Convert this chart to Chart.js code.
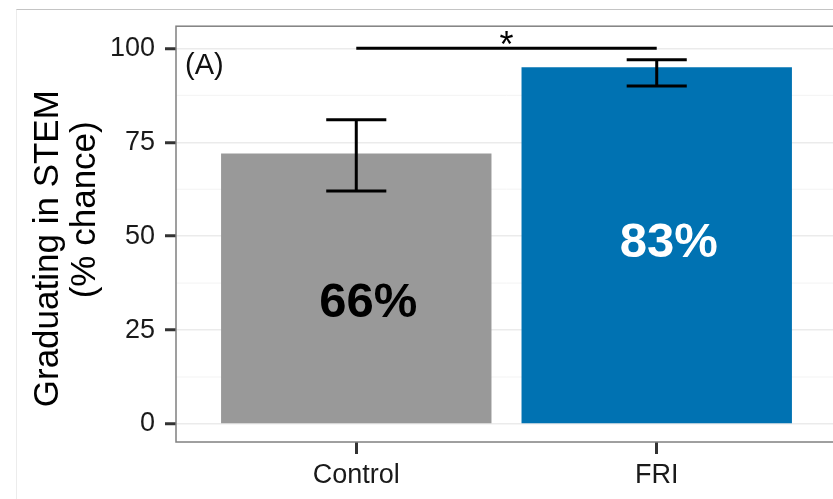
<!DOCTYPE html>
<html>
<head>
<meta charset="utf-8">
<script src="https://cdn.jsdelivr.net/npm/chart.js@4.4.1/dist/chart.umd.min.js"></script>
<style>
  html, body { margin: 0; padding: 0; background: #fff; overflow: hidden; }
  #wrap { position: relative; width: 833px; height: 499px; overflow: hidden; }
  #frame { position: absolute; left: 16px; top: 9px; right: 0; bottom: 0;
           border-top: 1px solid #c4c4c4; border-left: 1px solid #ececec; }
  #myChart { position: absolute; left: 0; top: 0; }
</style>
</head>
<body>
<div id="wrap">
  <div id="frame"></div>
  <canvas id="myChart" width="845" height="499"></canvas>
</div>
<script>
// dados do grafico
const categories = ['Control', 'FRI'];
const means = [72, 95];
const errLow = [62, 90];
const errHigh = [81, 97];
const pctLabels = ['66%', '83%'];
const pctX = [1.04, 2.04];
const pctY = [32, 48];
const barColors = ['#999999', '#0072B2'];
const pctColors = ['#000000', '#ffffff'];

const yTicks = [0, 25, 50, 75, 100];
const yMinor = [12.5, 37.5, 62.5, 87.5];

// linha de significancia entre os dois grupos
const sigFrom = 1;
const sigTo = 2;
const sigY = 100;
const sigText = '*';
const panelTag = '(A)';

const FONT = "'Liberation Sans', Arial, sans-serif";

var myChart;

const extras = {
    id: 'extras',
    beforeDatasetsDraw(chart) {
        const ctx = chart.ctx;
        const y = chart.scales.y;
        const area = chart.chartArea;
        ctx.save();
        ctx.strokeStyle = '#f3f3f3';
        ctx.lineWidth = 1;
        yMinor.forEach(v => {
            const py = y.getPixelForValue(v);
            ctx.beginPath();
            ctx.moveTo(area.left, py);
            ctx.lineTo(area.right, py);
            ctx.stroke();
        });
        ctx.restore();
    },
    afterDatasetsDraw(chart) {
        const ctx = chart.ctx;
        const x = chart.scales.x;
        const y = chart.scales.y;
        const area = chart.chartArea;
        ctx.save();

        // barras de erro
        ctx.strokeStyle = '#000';
        ctx.lineWidth = 3;
        categories.forEach((c, i) => {
            const cx = x.getPixelForValue(i + 1);
            const half = (x.getPixelForValue(i + 1.1) - cx);
            const top = y.getPixelForValue(errHigh[i]);
            const bot = y.getPixelForValue(errLow[i]);
            ctx.beginPath();
            ctx.moveTo(cx - half, top); ctx.lineTo(cx + half, top);
            ctx.moveTo(cx, top); ctx.lineTo(cx, bot);
            ctx.moveTo(cx - half, bot); ctx.lineTo(cx + half, bot);
            ctx.stroke();
        });

        // textos dentro das barras
        ctx.font = 'bold 49px ' + FONT;
        ctx.textAlign = 'center';
        ctx.textBaseline = 'middle';
        pctLabels.forEach((t, i) => {
            ctx.fillStyle = pctColors[i];
            ctx.fillText(t, x.getPixelForValue(pctX[i]), y.getPixelForValue(pctY[i]));
        });

        // significancia
        const sy = y.getPixelForValue(sigY);
        const x1 = x.getPixelForValue(sigFrom);
        const x2 = x.getPixelForValue(sigTo);
        ctx.beginPath();
        ctx.moveTo(x1, sy);
        ctx.lineTo(x2, sy);
        ctx.stroke();
        ctx.fillStyle = '#000';
        ctx.font = '36px ' + FONT;
        ctx.textBaseline = 'alphabetic';
        ctx.fillText(sigText, (x1 + x2) / 2, sy + 9);

        // rotulo do painel
        ctx.font = '29px ' + FONT;
        ctx.textAlign = 'left';
        ctx.textBaseline = 'middle';
        ctx.fillStyle = '#111';
        ctx.fillText(panelTag, area.left + 9, area.top + 40);

        // borda do painel
        ctx.strokeStyle = '#808080';
        ctx.lineWidth = 1.5;
        ctx.strokeRect(area.left, area.top, area.right - area.left, area.bottom - area.top);
        ctx.restore();
    }
};

function createChart() {
    myChart = new Chart(document.getElementById('myChart'), {
        type: 'bar',
        data: {
            datasets: [{
                data: categories.map((c, i) => ({ x: i + 1, y: means[i] })),
                backgroundColor: barColors,
                borderWidth: 0,
                barPercentage: 0.9,
                categoryPercentage: 1.0
            }]
        },
        options: {
            responsive: false,
            animation: false,
            layout: { padding: { top: 26, right: 8, left: 0, bottom: 0 } },
            plugins: {
                legend: { display: false },
                tooltip: { enabled: false }
            },
            scales: {
                x: {
                    type: 'linear',
                    min: 0.4,
                    max: 2.6,
                    offset: false,
                    afterBuildTicks: s => { s.ticks = categories.map((c, i) => ({ value: i + 1 })); },
                    afterFit: s => { s.height = 57; },
                    grid: {
                        display: true, drawOnChartArea: false, drawTicks: true,
                        offset: false, tickLength: 12, tickWidth: 3, tickColor: '#333'
                    },
                    border: { display: false },
                    ticks: {
                        autoSkip: false,
                        maxRotation: 0,
                        padding: 5,
                        color: '#1a1a1a',
                        font: { family: FONT, size: 27 },
                        callback: v => categories[v - 1]
                    }
                },
                y: {
                    min: -4.8,
                    max: 105.9,
                    afterBuildTicks: s => { s.ticks = yTicks.map(v => ({ value: v })); },
                    afterFit: s => { s.width = 176; },
                    grid: {
                        color: '#ebebeb', lineWidth: 1.5,
                        tickLength: 11, tickWidth: 3, tickColor: '#333'
                    },
                    border: { display: false },
                    ticks: {
                        padding: 10,
                        color: '#1a1a1a',
                        font: { family: FONT, size: 27 }
                    },
                    title: {
                        display: true,
                        text: ['Graduating in STEM   ', '     (% chance)'],
                        color: '#000',
                        font: { family: FONT, size: 35, lineHeight: 1.05 },
                        padding: { top: 30, bottom: 0 }
                    }
                }
            }
        },
        plugins: [extras]
    });
}

createChart();
</script>
</body>
</html>
